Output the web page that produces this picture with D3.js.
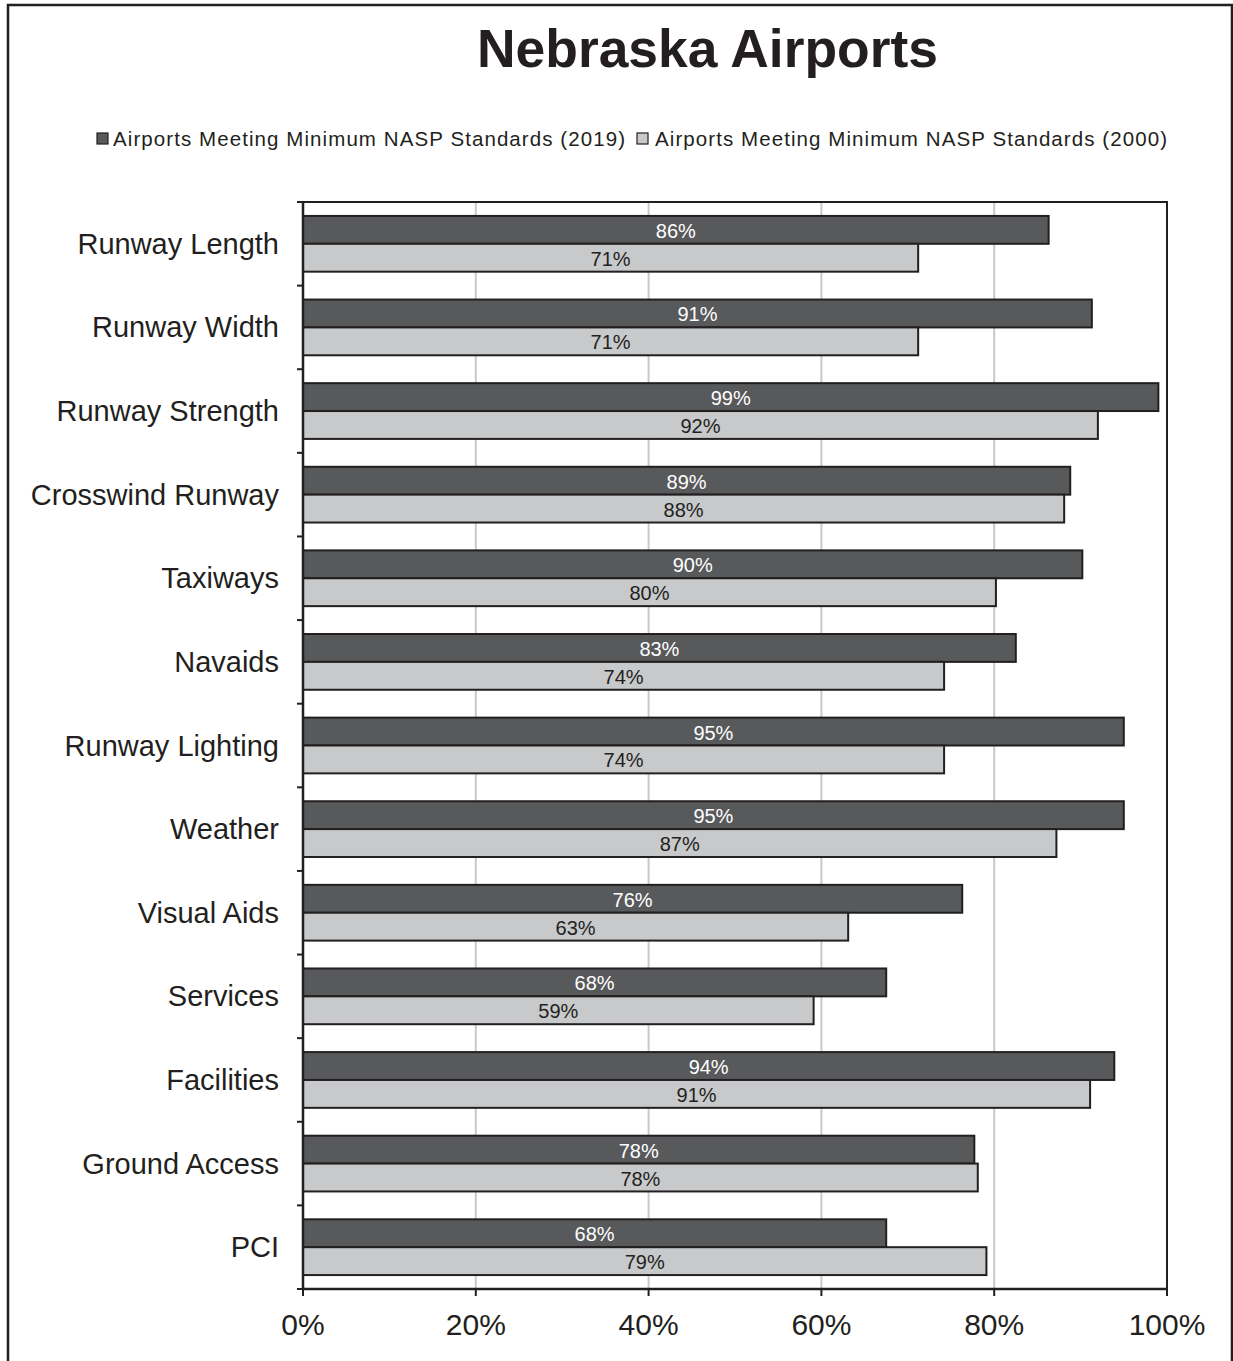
<!DOCTYPE html>
<html lang="en">

<head>
    <meta charset="UTF-8">
    <title>Nebraska Airports</title>
    <style>
        body {
            margin: 0;
            padding: 0;
            background: #fff;
        }

        svg {
            display: block;
            font-family: "Liberation Sans", Arial, sans-serif;
        }
    </style>
</head>

<body>

    <svg width="1233" height="1361"></svg>

    <script src="https://d3js.org/d3.v7.min.js"></script>
    <script>
        // Chart data
        const categories = ["Runway Length", "Runway Width", "Runway Strength", "Crosswind Runway", "Taxiways",
            "Navaids", "Runway Lighting", "Weather", "Visual Aids", "Services", "Facilities", "Ground Access", "PCI"];
        const seriesNames = ["Airports Meeting Minimum NASP Standards (2019)", "Airports Meeting Minimum NASP Standards (2000)"];
        const values2019 = [0.863, 0.913, 0.990, 0.888, 0.902, 0.825, 0.950, 0.950, 0.763, 0.675, 0.939, 0.777, 0.675];
        const values2000 = [0.712, 0.712, 0.920, 0.881, 0.802, 0.742, 0.742, 0.872, 0.631, 0.591, 0.911, 0.781, 0.791];
        const xTicks = [0, 0.2, 0.4, 0.6, 0.8, 1.0];

        const fills = ["#58595b", "#c8c9cb"];
        const labelColors = ["#ffffff", "#231f20"];
        const ink = "#231f20";

        const svg = d3.select("svg");

        // outer frame
        svg.append("rect")
            .attr("x", 8).attr("y", 5)
            .attr("width", 1224).attr("height", 1370)
            .attr("fill", "none").attr("stroke", ink).attr("stroke-width", 2.5);

        // title
        svg.append("text")
            .attr("x", 477).attr("y", 67)
            .attr("textLength", 461).attr("lengthAdjust", "spacingAndGlyphs")
            .attr("font-size", 53).attr("font-weight", "bold").attr("fill", ink)
            .text("Nebraska Airports");

        // legend
        const legendX = [97, 637];
        const legendTextX = [113, 655];
        seriesNames.forEach((name, i) => {
            svg.append("rect")
                .attr("x", legendX[i]).attr("y", 133)
                .attr("width", 11).attr("height", 11)
                .attr("fill", fills[i]).attr("stroke", ink).attr("stroke-width", 1.2);
            svg.append("text")
                .attr("x", legendTextX[i]).attr("y", 146)
                .attr("textLength", 512).attr("lengthAdjust", "spacing")
                .attr("font-size", 20.5).attr("fill", ink)
                .text(name);
        });

        // scales
        const x = d3.scaleLinear().domain([0, 1]).range([303, 1167]);
        const y = d3.scaleBand().domain(categories).range([202, 1289]);
        const ySub = d3.scaleBand().domain([0, 1]).range([0, y.bandwidth()]).paddingOuter(0.5);

        // gridlines
        svg.append("g")
            .selectAll("line")
            .data(xTicks.slice(1, -1))
            .join("line")
            .attr("x1", d => x(d)).attr("x2", d => x(d))
            .attr("y1", 202).attr("y2", 1289)
            .attr("stroke", "#c9c9c9").attr("stroke-width", 2);

        // plot frame top / right
        svg.append("path")
            .attr("d", `M${x(0)},202H${x(1)}V1289`)
            .attr("fill", "none").attr("stroke", ink).attr("stroke-width", 2);

        // bars
        const groups = svg.append("g")
            .selectAll("g")
            .data(categories)
            .join("g")
            .attr("transform", d => `translate(0,${y(d)})`);

        groups.each(function (cat, ci) {
            const g = d3.select(this);
            const vals = [values2019[ci], values2000[ci]];
            vals.forEach((v, si) => {
                g.append("rect")
                    .attr("x", x(0)).attr("y", ySub(si))
                    .attr("width", x(v) - x(0)).attr("height", ySub.bandwidth())
                    .attr("fill", fills[si]).attr("stroke", ink).attr("stroke-width", 2);
                g.append("text")
                    .attr("x", (x(0) + x(v)) / 2)
                    .attr("y", ySub(si) + ySub.bandwidth() / 2 + 8)
                    .attr("text-anchor", "middle")
                    .attr("font-size", 20).attr("fill", labelColors[si])
                    .text(d3.format(".0%")(v));
            });
        });

        // y axis
        const yAxis = svg.append("g");
        yAxis.append("line")
            .attr("x1", x(0)).attr("x2", x(0)).attr("y1", 202).attr("y2", 1289)
            .attr("stroke", ink).attr("stroke-width", 2.5);
        yAxis.selectAll(".tick")
            .data(categories.map(c => y(c)).concat([1289]))
            .join("line")
            .attr("x1", x(0) - 6).attr("x2", x(0))
            .attr("y1", d => d).attr("y2", d => d)
            .attr("stroke", ink).attr("stroke-width", 2);
        yAxis.selectAll("text")
            .data(categories)
            .join("text")
            .attr("x", 279)
            .attr("y", d => y(d) + y.bandwidth() / 2 + 10)
            .attr("text-anchor", "end")
            .attr("font-size", 29).attr("fill", ink)
            .text(d => d);

        // x axis
        const xAxis = svg.append("g");
        xAxis.append("line")
            .attr("x1", x(0)).attr("x2", x(1)).attr("y1", 1289).attr("y2", 1289)
            .attr("stroke", ink).attr("stroke-width", 2.5);
        xAxis.selectAll("line.tick")
            .data(xTicks)
            .join("line")
            .attr("class", "tick")
            .attr("x1", d => x(d)).attr("x2", d => x(d))
            .attr("y1", 1289).attr("y2", 1296)
            .attr("stroke", ink).attr("stroke-width", 2);
        xAxis.selectAll("text")
            .data(xTicks)
            .join("text")
            .attr("x", d => x(d)).attr("y", 1335)
            .attr("text-anchor", "middle")
            .attr("font-size", 30).attr("fill", ink)
            .text(d => d3.format(".0%")(d));
    </script>

</body>

</html>
